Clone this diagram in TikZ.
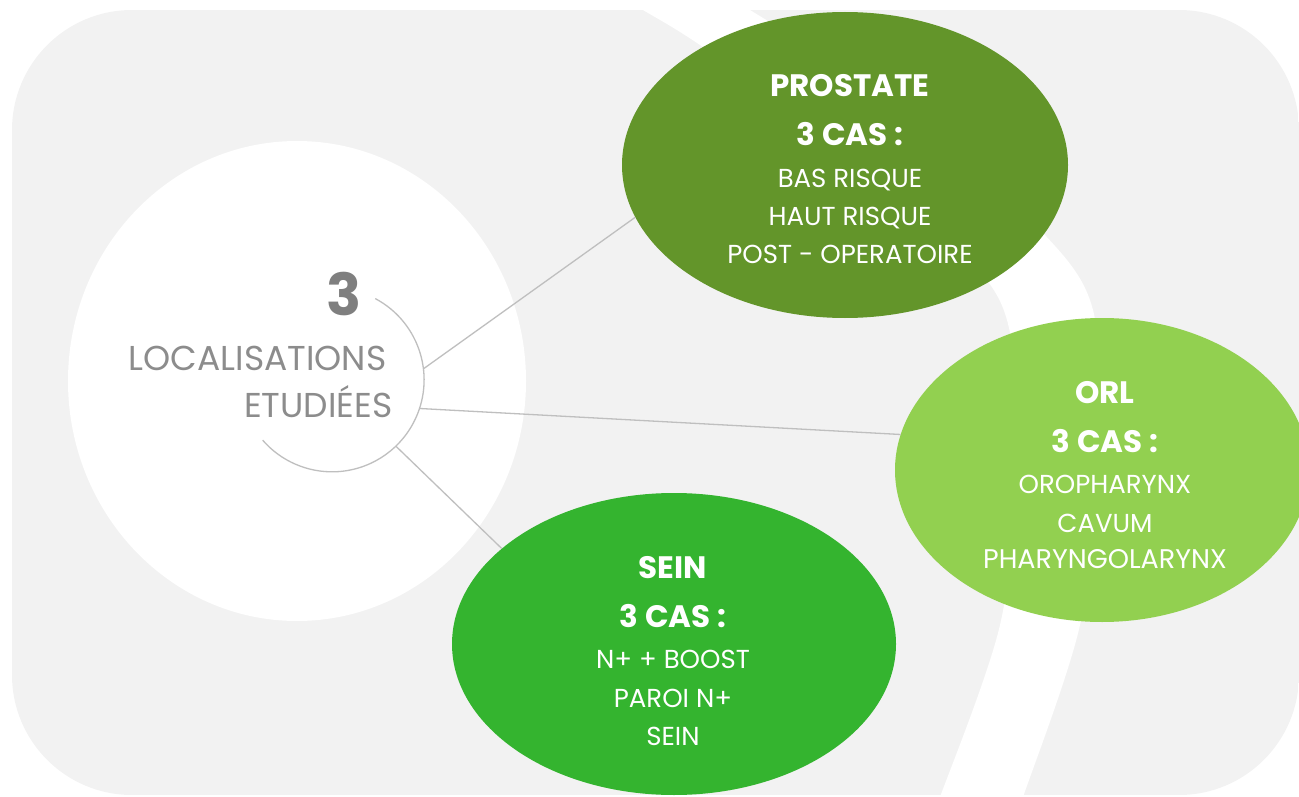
\documentclass[tikz,border=0pt]{standalone}
\usepackage{fontspec}
\setmainfont{Poppins}
\usetikzlibrary{shapes.geometric}
\definecolor{bggray}{HTML}{F2F2F2}
\definecolor{prostgreen}{HTML}{63952A}
\definecolor{orlgreen}{HTML}{92D050}
\definecolor{seingreen}{HTML}{34B42F}
\definecolor{linegray}{HTML}{BFBFBF}
\definecolor{txtgray}{HTML}{8C8C8C}
\definecolor{numgray}{HTML}{7F7F7F}
\tikzset{
  blob/.style={ellipse, inner sep=0pt, draw=none},
  conn/.style={draw=linegray, line width=1.3pt},
  ttl/.style={anchor=base, text=white, font=\fontsize{31}{31}\bfseries\selectfont},
  itm/.style={anchor=base, text=white, font=\fontsize{26}{26}\selectfont},
  ctr/.style={anchor=base east, text=txtgray, font=\fontsize{34.5}{34.5}\selectfont},
}
\begin{document}
\begin{tikzpicture}[x=1pt,y=1pt]
\useasboundingbox (0,0) rectangle (1299,-797);
\begin{scope}
  \clip[rounded corners=120pt] (12,-10) rectangle (1299,-795);
  \fill[bggray] (12,-10) rectangle (1299,-795);
  \fill[white] plot[smooth] coordinates {(602,15) (643,-10) (700,-45) (850,-150) (965,-255) (1007,-320) (1020,-450) (1000,-625) (940,-797) (925,-830)}
    -- plot[smooth] coordinates {(1010,-830) (1023,-797) (1080,-625) (1100,-450) (1093,-310) (1043,-233) (900,-105) (750,-10) (709,15)} -- cycle;
\end{scope}
% hub
\node[blob, fill=white, minimum width=458pt, minimum height=480pt] (hub) at (297,-381) {};
\node[circle, inner sep=0pt, minimum size=184pt] (ring) at (332,-380) {};
\draw[draw=linegray, line width=1.3pt] (ring.62) arc[start angle=62, end angle=-139, radius=92pt];
\node[anchor=base, text=numgray, font=\fontsize{58}{58}\bfseries\selectfont] (num) at (344,-315) {3};
\node[ctr] (loc) at (390,-370) {LOCALISATIONS};
\node[ctr] (etu) at (396,-417) {ETUDIÉES};
% ellipses
\node[blob, fill=prostgreen, minimum width=446pt, minimum height=306pt] (prost) at (845,-165) {};
\node[blob, fill=orlgreen, minimum width=414pt, minimum height=304pt] (orl) at (1102,-470) {};
\node[blob, fill=seingreen, minimum width=444pt, minimum height=302pt] (sein) at (674,-644) {};
% connectors
\draw[conn] (ring.7.5) -- (prost.194.8);
\draw[conn] (ring.-18.8) -- (orl.170);
\draw[conn] (ring.-46.3) -- (sein.151);
% prostate text
\node[ttl] (p1) at (850,-97) {PROSTATE};
\node[ttl] (p2) at (850,-146) {3 CAS :};
\node[itm] (p3) at (850,-187) {BAS RISQUE};
\node[itm] (p4) at (850,-225) {HAUT RISQUE};
\node[itm] (p5) at (850,-263) {POST - OPERATOIRE};
% orl text
\node[ttl] (o1) at (1105,-403) {ORL};
\node[ttl] (o2) at (1105,-452) {3 CAS :};
\node[itm] (o3) at (1105,-493) {OROPHARYNX};
\node[itm] (o4) at (1105,-532) {CAVUM};
\node[itm, font=\fontsize{27}{27}\selectfont] (o5) at (1105,-568) {PHARYNGOLARYNX};
% sein text
\node[ttl] (s1) at (673,-578) {SEIN};
\node[ttl] (s2) at (673,-627) {3 CAS :};
\node[itm] (s3) at (673,-668) {N+ + BOOST};
\node[itm] (s4) at (673,-707) {PAROI N+};
\node[itm] (s5) at (673,-745) {SEIN};
\end{tikzpicture}
\end{document}
